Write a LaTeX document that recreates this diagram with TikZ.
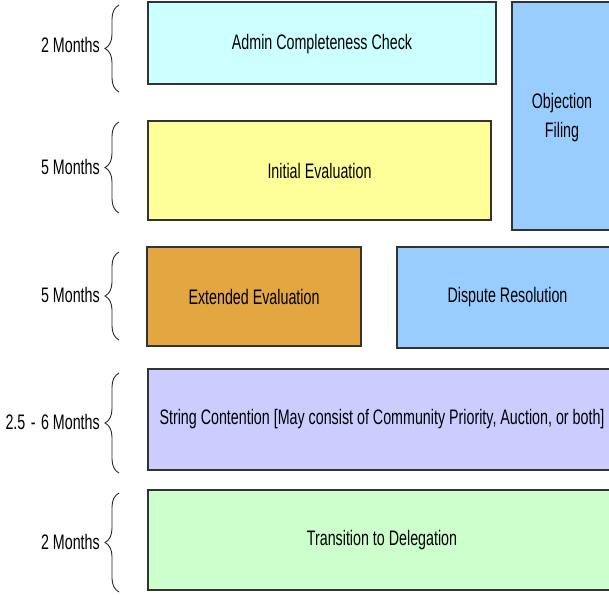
\documentclass[tikz,border=0pt]{standalone}
\usepackage{fontspec}
\setmainfont{Liberation Sans}[FakeStretch=0.68]
\usetikzlibrary{decorations.pathreplacing}

\definecolor{AdminCyan}{HTML}{CCFFFF}
\definecolor{InitYellow}{HTML}{FFFF99}
\definecolor{ExtOrange}{HTML}{E3A641}
\definecolor{ObjBlue}{HTML}{99CCFF}
\definecolor{StringLilac}{HTML}{CCCCFF}
\definecolor{DelegGreen}{HTML}{CCFFCC}
\definecolor{EdgeGray}{HTML}{333333}

\tikzset{
  phase/.style={draw=EdgeGray, line width=1.2pt},
  monthbrace/.style={decorate, decoration={brace, amplitude=14pt}, line width=0.9pt, draw=black!85},
  monthlabel/.style={anchor=east, inner sep=0pt}
}

\begin{document}
\begin{tikzpicture}[x=1pt, y=-1pt, font=\fontsize{21}{29}\selectfont]
\useasboundingbox (0,0) rectangle (609,594);
\coordinate (AdminTL) at (148, 2);
\coordinate (AdminBR) at (496, 84);
\coordinate (InitTL) at (148, 121);
\coordinate (InitBR) at (491, 220);
\coordinate (ObjTL) at (512, 2);
\coordinate (ObjBR) at (612, 230);
\coordinate (ExtTL) at (147, 247);
\coordinate (ExtBR) at (361, 346);
\coordinate (DispTL) at (397, 247);
\coordinate (DispBR) at (612, 348);
\coordinate (StrTL) at (148, 369);
\coordinate (StrBR) at (612, 470);
\coordinate (DelTL) at (148, 490);
\coordinate (DelBR) at (612, 590);
\draw[phase, fill=AdminCyan] (AdminTL) rectangle (AdminBR) node[midway, yshift=-1.5pt] (admin) {Admin Completeness Check};
\draw[phase, fill=InitYellow] (InitTL) rectangle (InitBR) node[midway] (initial) {Initial Evaluation};
\draw[phase, fill=ObjBlue] (ObjTL) rectangle (ObjBR) node[midway, yshift=-1.5pt, align=center] (objection) {Objection\\Filing};
\draw[phase, fill=ExtOrange] (ExtTL) rectangle (ExtBR) node[midway] (extended) {Extended Evaluation};
\draw[phase, fill=ObjBlue] (DispTL) rectangle (DispBR) node[midway, xshift=3pt] (dispute) {Dispute Resolution};
\draw[phase, fill=StringLilac] (StrTL) rectangle (StrBR) node[midway, xshift=2pt] (string) {String Contention [May consist of Community Priority, Auction, or both]};
\draw[phase, fill=DelegGreen] (DelTL) rectangle (DelBR) node[midway, xshift=2pt] (delegation) {Transition to Delegation};
% braces on the left
\draw[monthbrace] (119, 92) -- (119, 5);
\draw[monthbrace] (119, 213) -- (119, 122);
\draw[monthbrace] (119, 340) -- (119, 252);
\draw[monthbrace] (119, 473) -- (119, 373);
\draw[monthbrace] (119, 592) -- (119, 493);
\node[monthlabel] (m1) at (100, 45) {2 Months};
\node[monthlabel] (m2) at (100, 167) {5 Months};
\node[monthlabel] (m3) at (100, 295) {5 Months};
\node[monthlabel] (m4) at (100, 422) {2.5\hspace{1.5pt} - \hspace{1.5pt}6 Months};
\node[monthlabel] (m5) at (100, 542) {2 Months};
\end{tikzpicture}
\end{document}
